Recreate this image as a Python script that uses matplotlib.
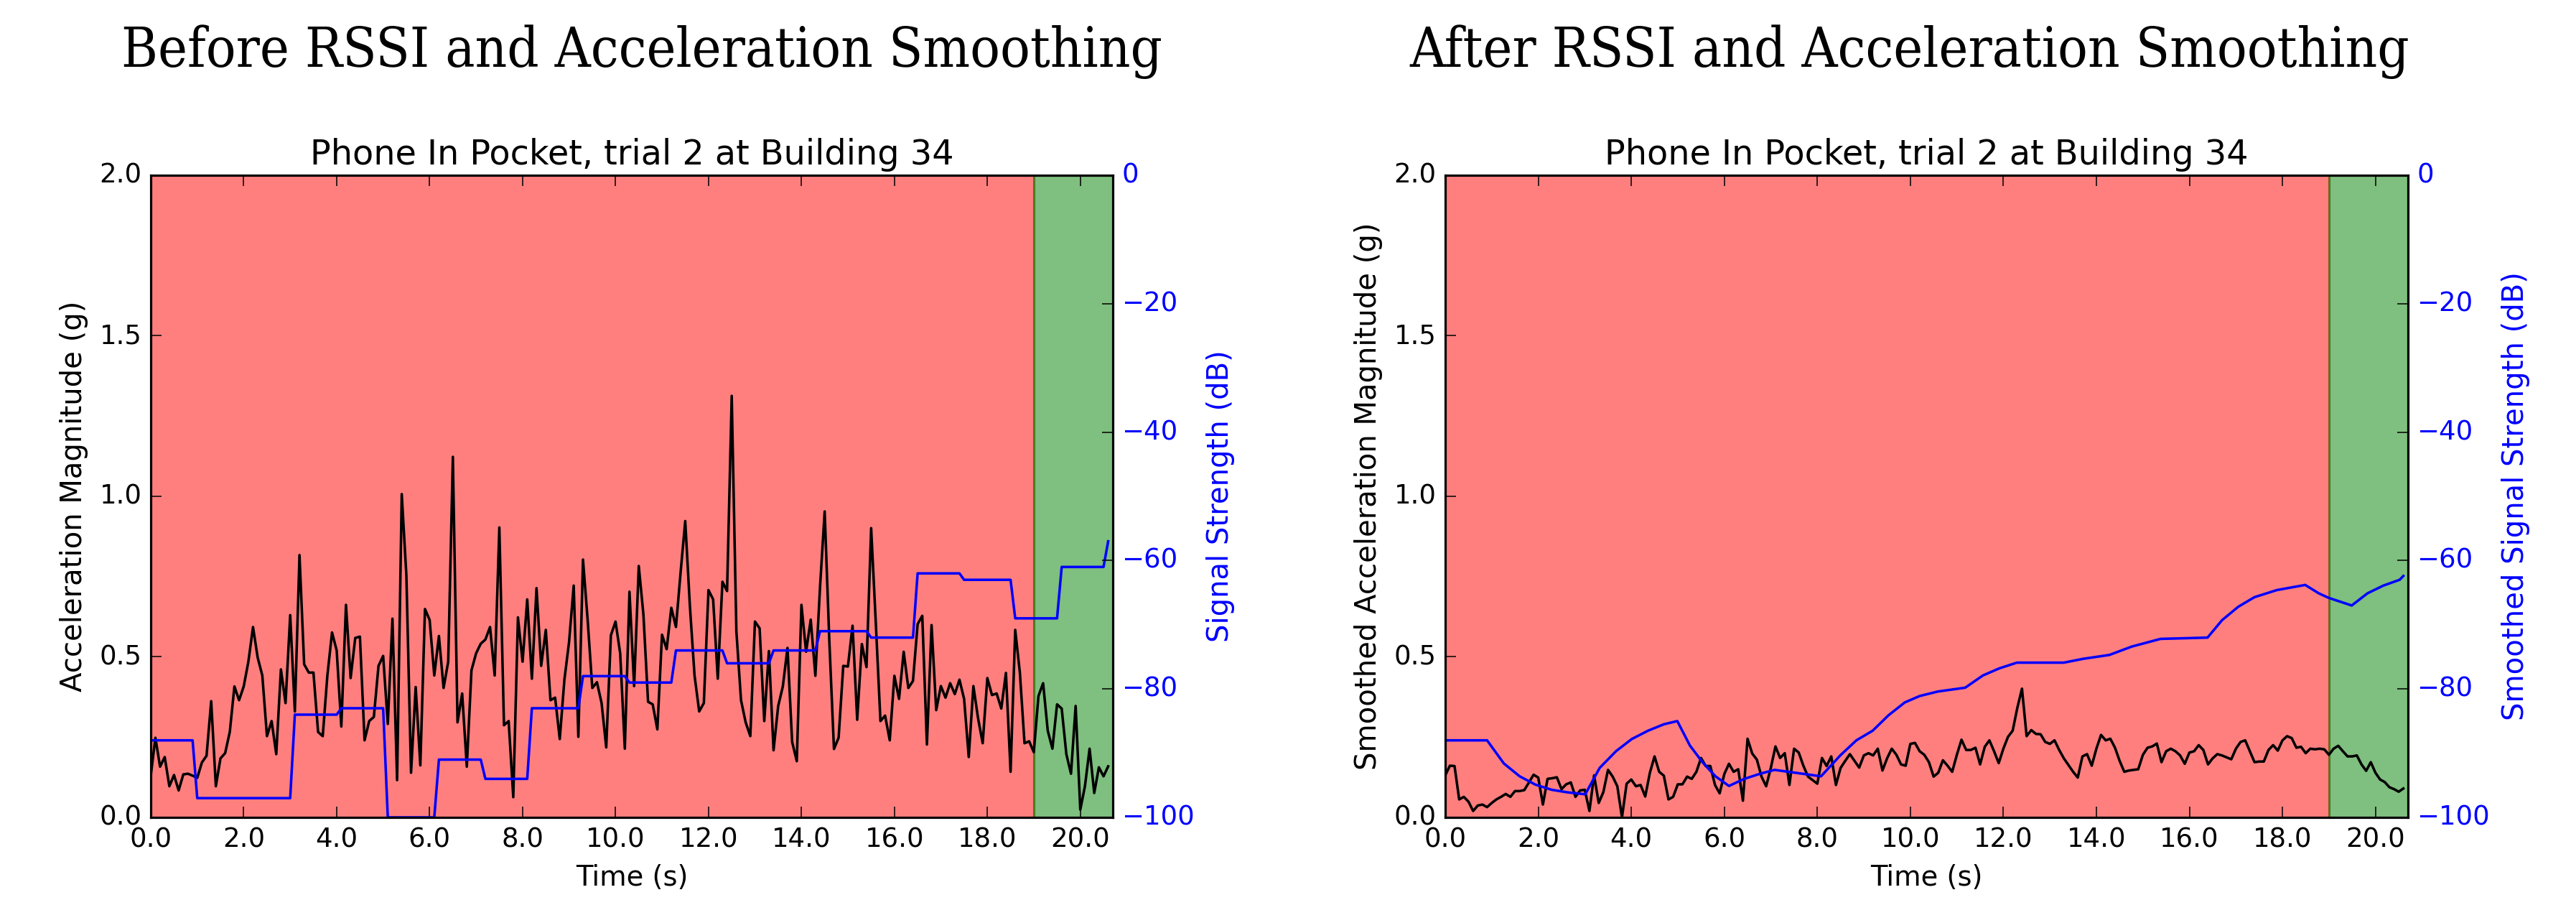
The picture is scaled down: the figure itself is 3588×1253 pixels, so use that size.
import numpy as np
import matplotlib
matplotlib.use("Agg")
import matplotlib.pyplot as plt
from matplotlib.ticker import FormatStrFormatter

plt.style.use("classic")

# ---------------- data ----------------
time_s = [round(0.1 * i, 1) for i in range(207)]

acc_raw = [
    0.130, 0.248, 0.158, 0.188, 0.097, 0.132, 0.084, 0.134, 0.136, 0.130,
    0.123, 0.171, 0.192, 0.362, 0.097, 0.184, 0.200, 0.266, 0.408, 0.365,
    0.408, 0.485, 0.593, 0.498, 0.442, 0.253, 0.300, 0.197, 0.461, 0.356,
    0.630, 0.330, 0.817, 0.477, 0.451, 0.451, 0.266, 0.253, 0.442, 0.576,
    0.520, 0.283, 0.662, 0.434, 0.559, 0.563, 0.240, 0.300, 0.313, 0.472,
    0.503, 0.291, 0.619, 0.116, 1.007, 0.753, 0.139, 0.406, 0.162, 0.649,
    0.615, 0.442, 0.565, 0.403, 0.485, 1.123, 0.296, 0.386, 0.158, 0.458,
    0.511, 0.541, 0.554, 0.593, 0.442, 0.903, 0.287, 0.300, 0.063, 0.623,
    0.485, 0.679, 0.432, 0.714, 0.472, 0.584, 0.365, 0.373, 0.244, 0.429,
    0.546, 0.722, 0.251, 0.803, 0.615, 0.403, 0.421, 0.356, 0.218, 0.567,
    0.610, 0.511, 0.214, 0.703, 0.409, 0.783, 0.632, 0.360, 0.352, 0.274,
    0.569, 0.524, 0.653, 0.593, 0.763, 0.923, 0.658, 0.442, 0.330, 0.356,
    0.708, 0.679, 0.432, 0.734, 0.705, 1.313, 0.580, 0.365, 0.296, 0.253,
    0.610, 0.589, 0.300, 0.518, 0.209, 0.347, 0.408, 0.528, 0.235, 0.175,
    0.662, 0.516, 0.616, 0.441, 0.717, 0.953, 0.550, 0.213, 0.248, 0.472,
    0.470, 0.597, 0.304, 0.540, 0.468, 0.901, 0.606, 0.300, 0.317, 0.240,
    0.441, 0.369, 0.516, 0.403, 0.425, 0.602, 0.628, 0.227, 0.599, 0.334,
    0.409, 0.373, 0.418, 0.384, 0.429, 0.369, 0.188, 0.409, 0.309, 0.231,
    0.434, 0.381, 0.386, 0.339, 0.450, 0.142, 0.584, 0.451, 0.231, 0.237,
    0.203, 0.378, 0.418, 0.270, 0.214, 0.352, 0.339, 0.197, 0.136, 0.347,
    0.024, 0.097, 0.214, 0.076, 0.156, 0.128, 0.159,
]

rssi_raw = [
    -88, -88, -88, -88, -88, -88, -88, -88, -88, -88,
    -97, -97, -97, -97, -97, -97, -97, -97, -97, -97,
    -97, -97, -97, -97, -97, -97, -97, -97, -97, -97,
    -97, -84, -84, -84, -84, -84, -84, -84, -84, -84,
    -84, -83, -83, -83, -83, -83, -83, -83, -83, -83,
    -83, -100, -100, -100, -100, -100, -100, -100, -100, -100,
    -100, -100, -91, -91, -91, -91, -91, -91, -91, -91,
    -91, -91, -94, -94, -94, -94, -94, -94, -94, -94,
    -94, -94, -83, -83, -83, -83, -83, -83, -83, -83,
    -83, -83, -83, -78, -78, -78, -78, -78, -78, -78,
    -78, -78, -78, -79, -79, -79, -79, -79, -79, -79,
    -79, -79, -79, -74, -74, -74, -74, -74, -74, -74,
    -74, -74, -74, -74, -76, -76, -76, -76, -76, -76,
    -76, -76, -76, -76, -74, -74, -74, -74, -74, -74,
    -74, -74, -74, -74, -71, -71, -71, -71, -71, -71,
    -71, -71, -71, -71, -71, -72, -72, -72, -72, -72,
    -72, -72, -72, -72, -72, -62, -62, -62, -62, -62,
    -62, -62, -62, -62, -62, -63, -63, -63, -63, -63,
    -63, -63, -63, -63, -63, -63, -69, -69, -69, -69,
    -69, -69, -69, -69, -69, -69, -61, -61, -61, -61,
    -61, -61, -61, -61, -61, -61, -57,
]

acc_smooth = [
    0.131, 0.161, 0.160, 0.056, 0.064, 0.049, 0.020, 0.037, 0.040, 0.032,
    0.045, 0.056, 0.064, 0.073, 0.064, 0.082, 0.082, 0.085, 0.109, 0.133,
    0.124, 0.040, 0.120, 0.122, 0.125, 0.088, 0.103, 0.109, 0.064, 0.084,
    0.086, 0.020, 0.131, 0.045, 0.079, 0.148, 0.127, 0.097, 0.000, 0.105,
    0.118, 0.097, 0.101, 0.065, 0.139, 0.190, 0.142, 0.130, 0.056, 0.064,
    0.103, 0.103, 0.127, 0.120, 0.142, 0.185, 0.160, 0.160, 0.101, 0.075,
    0.135, 0.167, 0.142, 0.150, 0.052, 0.245, 0.199, 0.180, 0.127, 0.097,
    0.154, 0.221, 0.185, 0.200, 0.101, 0.214, 0.202, 0.161, 0.127, 0.116,
    0.105, 0.185, 0.160, 0.190, 0.101, 0.154, 0.176, 0.197, 0.176, 0.155,
    0.193, 0.200, 0.193, 0.214, 0.146, 0.184, 0.214, 0.195, 0.165, 0.161,
    0.229, 0.232, 0.206, 0.195, 0.172, 0.127, 0.139, 0.178, 0.161, 0.142,
    0.195, 0.242, 0.210, 0.210, 0.217, 0.165, 0.220, 0.240, 0.206, 0.169,
    0.214, 0.251, 0.270, 0.341, 0.401, 0.253, 0.272, 0.260, 0.259, 0.235,
    0.229, 0.240, 0.210, 0.184, 0.163, 0.142, 0.124, 0.190, 0.197, 0.161,
    0.214, 0.257, 0.240, 0.245, 0.217, 0.176, 0.142, 0.146, 0.148, 0.150,
    0.195, 0.217, 0.221, 0.230, 0.172, 0.206, 0.214, 0.206, 0.193, 0.167,
    0.202, 0.206, 0.225, 0.210, 0.165, 0.184, 0.197, 0.193, 0.187, 0.181,
    0.214, 0.235, 0.240, 0.206, 0.172, 0.174, 0.174, 0.210, 0.225, 0.208,
    0.240, 0.253, 0.247, 0.217, 0.220, 0.200, 0.214, 0.212, 0.214, 0.212,
    0.195, 0.214, 0.223, 0.206, 0.190, 0.190, 0.193, 0.165, 0.145, 0.172,
    0.139, 0.118, 0.110, 0.094, 0.088, 0.080, 0.090,
]

rssi_smooth_t = [
    0.0, 0.9, 1.26, 1.6, 1.94, 2.29, 2.63, 3.01,
    3.32, 3.67, 4.01, 4.36, 4.7, 4.99,
    5.26, 5.53, 5.81, 6.1,
    6.43, 6.77, 7.08, 8.08,
    8.5, 8.84, 9.19, 9.53, 9.88, 10.2, 10.59, 11.18,
    11.56, 11.91, 12.29, 13.3, 13.72, 14.28, 14.76, 15.38, 16.39,
    16.7, 17.05, 17.4, 17.88, 18.49, 18.78, 18.99, 19.49,
    19.83, 20.17, 20.52, 20.6,
]
rssi_smooth_v = [
    -88.0, -88.0, -91.6, -93.6, -94.9, -95.7, -96.1, -96.4,
    -92.3, -89.7, -87.8, -86.5, -85.5, -85.0,
    -88.8, -91.4, -93.6, -95.1,
    -94.0, -93.2, -92.6, -93.6,
    -90.3, -88.0, -86.5, -84.1, -82.1, -81.1, -80.4, -79.8,
    -77.9, -76.8, -75.9, -75.9, -75.3, -74.7, -73.4, -72.2, -72.0,
    -69.3, -67.2, -65.7, -64.6, -63.8, -65.1, -65.8, -67.0,
    -65.1, -63.9, -63.0, -62.4,
]

outside_start = 0.0
door_time = 19.0
x_end = 20.7

panel_titles = ["Before RSSI and Acceleration Smoothing",
                "After RSSI and Acceleration Smoothing"]
sub_title = "Phone In Pocket, trial 2 at Building 34"
acc_labels = ["Acceleration Magnitude (g)", "Smoothed Acceleration Magnitude (g)"]
rssi_labels = ["Signal Strength (dB)", "Smoothed Signal Strength (dB)"]

# ---------------- figure ----------------
W, H = 3588, 1253
DPI = 222
fig = plt.figure(figsize=(16.1622, 5.6442), dpi=DPI, facecolor="white")

ax_rects = [
    [210 / W, 1 - 1138 / H, 1340 / W, 894 / H],
    [2013 / W, 1 - 1138 / H, 1341 / W, 894 / H],
]
title_x = [894 / W, 2660 / W]
title_y = 1 - 93 / H

series = [
    (time_s, acc_raw, time_s, rssi_raw),
    (time_s, acc_smooth, rssi_smooth_t, rssi_smooth_v),
]

LW = 1.15
for i in range(2):
    ax = fig.add_axes(ax_rects[i])
    ax.axvspan(outside_start, door_time, color="r", alpha=0.5)
    ax.axvspan(door_time, x_end, color="g", alpha=0.5)
    tx, ay, rx, ry = series[i]
    ax.plot(tx, ay, color="k", lw=LW)
    ax.set_xlim(0, x_end)
    ax.set_ylim(0, 2.0)
    ax.set_yticks([0.0, 0.5, 1.0, 1.5, 2.0])
    ax.set_xticks(np.arange(0, 21, 2.0))
    ax.xaxis.set_major_formatter(FormatStrFormatter("%.1f"))
    ax.yaxis.set_major_formatter(FormatStrFormatter("%.1f"))
    ax.tick_params(labelsize=12, length=5)
    ax.set_xlabel("Time (s)", fontsize=12.5)
    ax.set_ylabel(acc_labels[i], fontsize=13)
    ax.set_title(sub_title, fontsize=15.5)

    ax2 = ax.twinx()
    ax2.plot(rx, ry, color="b", lw=LW)
    ax2.set_xlim(0, x_end)
    ax2.set_ylim(-100, 0)
    ax2.set_yticks([-100, -80, -60, -40, -20, 0])
    ax2.tick_params(axis="y", labelcolor="b", labelsize=12, length=5)
    ax2.set_ylabel(rssi_labels[i], color="b", fontsize=13)

    fig.text(title_x[i], title_y, panel_titles[i], ha="center", va="baseline",
             fontsize=25, family=["DejaVu Serif Condensed", "DejaVu Serif"],
             fontstretch="condensed")

fig.savefig("out.png", dpi=DPI, facecolor="white")
